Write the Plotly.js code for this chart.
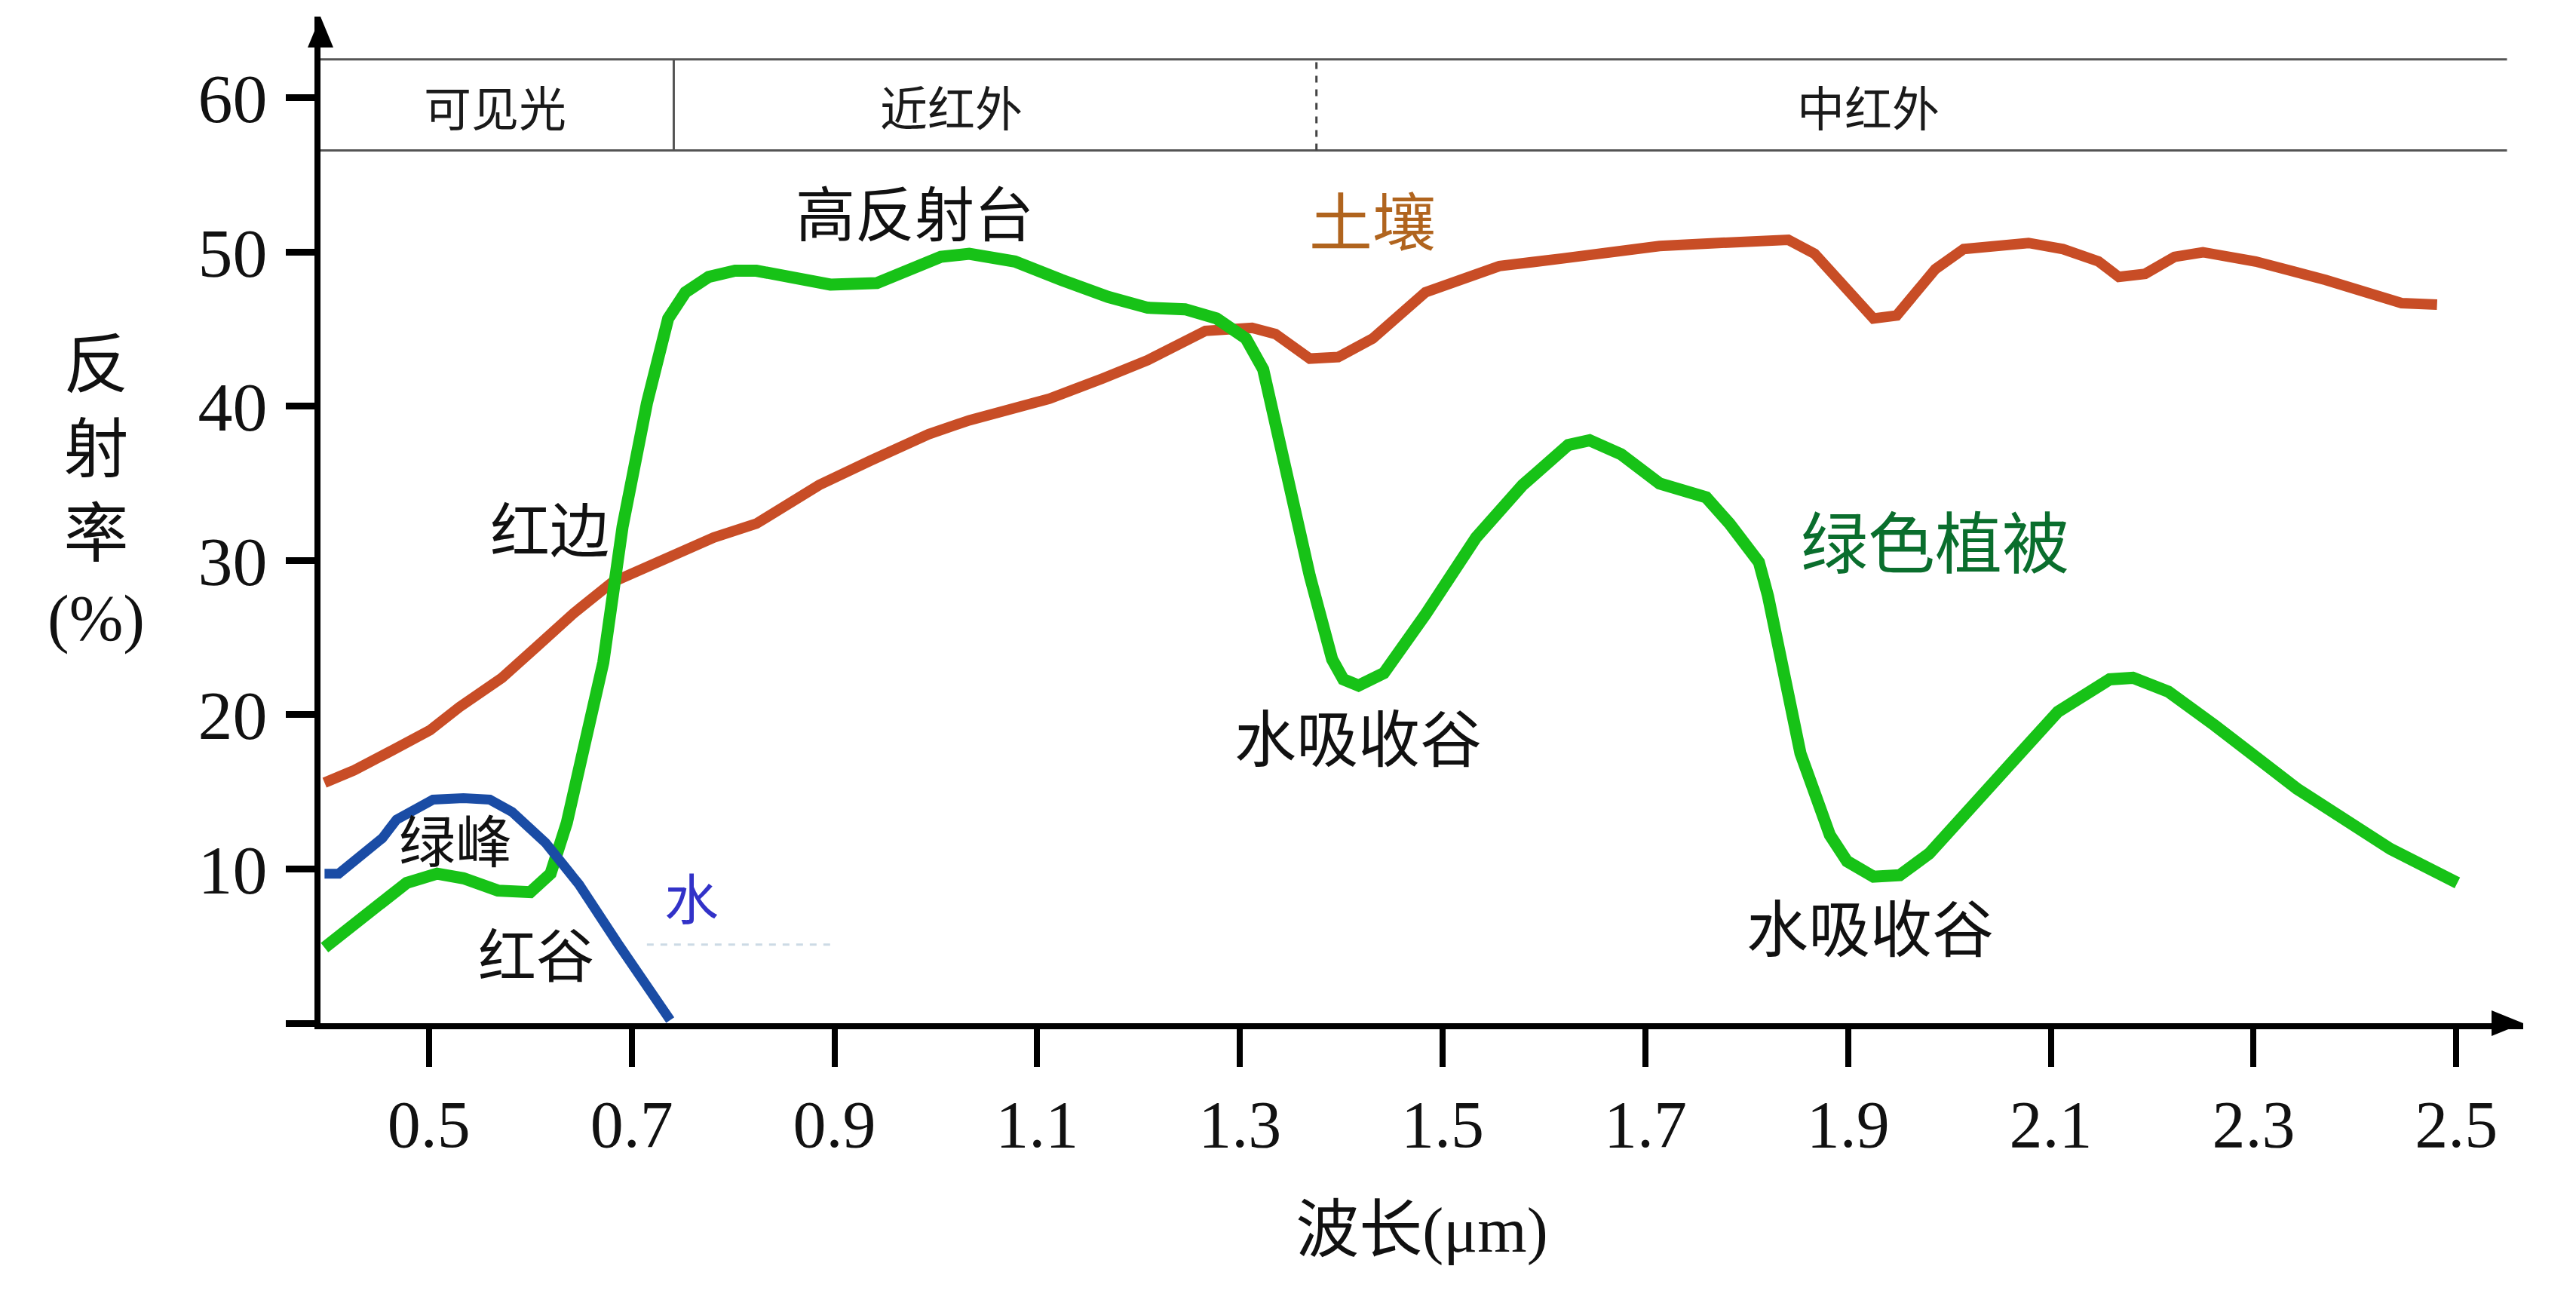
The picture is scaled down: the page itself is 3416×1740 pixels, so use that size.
<!DOCTYPE html>
<html>
<head>
<meta charset="utf-8">
<script src="https://cdn.plot.ly/plotly-3.0.1.min.js"></script>
<style>
  html, body { margin: 0; padding: 0; background: #ffffff; }
  #chart { width: 3416px; height: 1740px; }
</style>
</head>
<body>
<div id="chart"></div>
<script>
// Reflectance spectra (wavelength in µm, reflectance in %)
const vegWavelength = [0.397, 0.420, 0.449, 0.478, 0.508, 0.534, 0.568, 0.600, 0.620, 0.636, 0.653, 0.672, 0.691, 0.715, 0.736, 0.753, 0.776, 0.802, 0.823, 0.896, 0.942, 1.005, 1.033, 1.078, 1.124, 1.170, 1.209, 1.246, 1.277, 1.306, 1.323, 1.346, 1.369, 1.391, 1.402, 1.417, 1.442, 1.483, 1.533, 1.579, 1.624, 1.645, 1.676, 1.714, 1.749, 1.760, 1.783, 1.812, 1.821, 1.830, 1.847, 1.853, 1.882, 1.899, 1.925, 1.951, 1.980, 2.020, 2.060, 2.107, 2.158, 2.181, 2.216, 2.262, 2.297, 2.343, 2.435, 2.501];
const vegReflectance = [4.9, 6.2, 7.6, 9.1, 9.7, 9.4, 8.6, 8.5, 9.7, 13.0, 17.6, 23.4, 32.2, 40.2, 45.7, 47.4, 48.4, 48.8, 48.8, 47.9, 48.0, 49.7, 49.9, 49.4, 48.2, 47.1, 46.4, 46.3, 45.7, 44.4, 42.4, 35.8, 29.0, 23.6, 22.3, 21.9, 22.7, 26.5, 31.5, 34.9, 37.5, 37.8, 36.9, 35.0, 34.4, 34.1, 32.4, 29.9, 27.7, 24.9, 19.6, 17.5, 12.2, 10.5, 9.5, 9.6, 11.0, 13.8, 16.8, 20.2, 22.3, 22.4, 21.5, 19.3, 17.5, 15.2, 11.3, 9.1];

const soilWavelength = [0.397, 0.426, 0.464, 0.501, 0.530, 0.572, 0.606, 0.643, 0.681, 0.743, 0.781, 0.823, 0.885, 0.936, 0.993, 1.033, 1.112, 1.164, 1.209, 1.266, 1.312, 1.335, 1.369, 1.397, 1.431, 1.483, 1.556, 1.619, 1.714, 1.772, 1.841, 1.867, 1.893, 1.925, 1.948, 1.986, 2.014, 2.078, 2.112, 2.147, 2.167, 2.193, 2.222, 2.250, 2.302, 2.371, 2.446, 2.481];
const soilReflectance = [15.6, 16.4, 17.7, 19.0, 20.5, 22.4, 24.4, 26.6, 28.6, 30.5, 31.5, 32.4, 34.9, 36.5, 38.2, 39.1, 40.5, 41.8, 43.0, 44.9, 45.1, 44.7, 43.1, 43.2, 44.4, 47.4, 49.1, 49.6, 50.4, 50.6, 50.8, 49.9, 48.0, 45.7, 45.9, 48.9, 50.2, 50.6, 50.2, 49.4, 48.4, 48.6, 49.7, 50.0, 49.4, 48.2, 46.7, 46.6];

const waterWavelength = [0.397, 0.411, 0.454, 0.468, 0.504, 0.534, 0.560, 0.582, 0.615, 0.648, 0.686, 0.715, 0.738];
const waterReflectance = [9.7, 9.7, 12.0, 13.2, 14.5, 14.6, 14.5, 13.7, 11.7, 9.0, 5.2, 2.3, 0.2];

// Axis ticks
const xTickVals = [0.5, 0.7, 0.9, 1.1, 1.3, 1.5, 1.7, 1.9, 2.1, 2.3, 2.5];
const xTickText = ['0.5', '0.7', '0.9', '1.1', '1.3', '1.5', '1.7', '1.9', '2.1', '2.3', '2.5'];
const yTickVals = [0, 10, 20, 30, 40, 50, 60];
const yTickText = ['', '10', '20', '30', '40', '50', '60'];

// Spectral regions shown in the header band
const bandNames = ['可见光', '近红外', '中红外'];
const bandEdges = [0.393, 0.7415, 1.3755, 2.55];
const bandLabelAt = [0.565, 1.015, 1.92];
const bandRange = [56.6, 62.5];

const SERIF = "'Liberation Serif', 'Noto Sans CJK SC', serif";
const CJK = "'Noto Sans CJK SC', 'Liberation Serif', sans-serif";

const traces = [
  { x: soilWavelength, y: soilReflectance, name: '土壤', mode: 'lines',
    line: { color: '#c84d26', width: 14 }, hoverinfo: 'skip' },
  { x: vegWavelength, y: vegReflectance, name: '绿色植被', mode: 'lines',
    line: { color: '#17c217', width: 16 }, hoverinfo: 'skip' },
  { x: waterWavelength, y: waterReflectance, name: '水', mode: 'lines',
    line: { color: '#1a4ca5', width: 13 }, hoverinfo: 'skip' }
];

// Header band: two horizontal rules plus one solid and one dashed divider
const shapes = [
  { type: 'line', xref: 'x', yref: 'y', x0: bandEdges[0], x1: bandEdges[3], y0: bandRange[1], y1: bandRange[1],
    line: { color: '#555555', width: 3 } },
  { type: 'line', xref: 'x', yref: 'y', x0: bandEdges[0], x1: bandEdges[3], y0: bandRange[0], y1: bandRange[0],
    line: { color: '#555555', width: 3 } },
  { type: 'line', xref: 'x', yref: 'y', x0: bandEdges[1], x1: bandEdges[1], y0: bandRange[0], y1: bandRange[1],
    line: { color: '#555555', width: 3 } },
  { type: 'line', xref: 'x', yref: 'y', x0: bandEdges[2], x1: bandEdges[2], y0: bandRange[0], y1: bandRange[1],
    line: { color: '#444444', width: 3, dash: 'dash' } },
  // faint trail next to the water label
  { type: 'line', xref: 'x', yref: 'y', x0: 0.715, x1: 0.897, y0: 5.1, y1: 5.1,
    line: { color: 'rgba(110,150,180,0.35)', width: 3, dash: 'dash' } },
  // arrowheads at the ends of both axes
  { type: 'path', xref: 'paper', yref: 'paper', xsizemode: 'pixel', ysizemode: 'pixel',
    xanchor: 0, yanchor: 1, path: 'M0,0 L-17,-41 L17,-41 Z',
    fillcolor: '#000000', line: { width: 0 } },
  { type: 'path', xref: 'paper', yref: 'paper', xsizemode: 'pixel', ysizemode: 'pixel',
    xanchor: 1, yanchor: 0, path: 'M0,0 L-42,17 L-42,-17 Z',
    fillcolor: '#000000', line: { width: 0 } }
];

const annotations = [];
bandNames.forEach((t, i) => {
  annotations.push({ text: t, x: bandLabelAt[i], y: (bandRange[0] + bandRange[1]) / 2,
    xref: 'x', yref: 'y', showarrow: false, font: { family: CJK, size: 63, color: '#1a1a1a' } });
});

function note(text, x, y, size, color) {
  annotations.push({ text: text, x: x, y: y, xref: 'x', yref: 'y', showarrow: false,
    xanchor: 'center', yanchor: 'middle', font: { family: CJK, size: size, color: color } });
}
note('高反射台', 0.979, 52.7, 79, '#111111');
note('土壤', 1.4305, 52.2, 84, '#b0641e');
note('绿色植被', 1.986, 31.4, 89, '#0a6e2d');
note('红边', 0.619, 32.2, 79, '#111111');
note('水吸收谷', 1.417, 18.7, 82, '#111111');
note('水吸收谷', 1.922, 6.4, 82, '#111111');
note('绿峰', 0.526, 12.0, 75, '#111111');
note('蓝谷', 0.289, 3.5, 75, '#111111');
note('红谷', 0.6055, 4.6, 77, '#111111');
note('水', 0.759, 8.3, 72, '#3232c8');

// Vertical y-axis title, one character per line
annotations.push({ text: '反<br>射<br>率<br>(%)', xref: 'paper', yref: 'paper',
  x: -0.102, y: 0.528, xanchor: 'center', yanchor: 'middle', showarrow: false,
  font: { family: SERIF, size: 86, color: '#111111' } });

const layout = {
  width: 3416, height: 1740,
  margin: { l: 425, r: 70, t: 22, b: 383 },
  paper_bgcolor: '#ffffff', plot_bgcolor: '#ffffff',
  showlegend: false,
  font: { family: SERIF, color: '#111111' },
  xaxis: {
    range: [0.393, 2.566], showgrid: false, zeroline: false,
    showline: true, linecolor: '#000000', linewidth: 8,
    ticks: 'outside', ticklen: 50, tickwidth: 8, tickcolor: '#000000',
    tickmode: 'array', tickvals: xTickVals, ticktext: xTickText,
    tickfont: { family: SERIF, size: 88, color: '#111111' },
    title: { text: '波长(μm)', font: { family: SERIF, size: 84, color: '#111111' }, standoff: 66 }
  },
  yaxis: {
    range: [0, 65.28], showgrid: false, zeroline: false,
    showline: true, linecolor: '#000000', linewidth: 8,
    ticks: 'outside', ticklen: 38, tickwidth: 9, tickcolor: '#000000',
    tickmode: 'array', tickvals: yTickVals, ticktext: yTickText,
    ticklabelstandoff: 6,
    tickfont: { family: SERIF, size: 92, color: '#111111' }
  },
  shapes: shapes,
  annotations: annotations
};

Plotly.newPlot('chart', traces, layout, { displayModeBar: false, staticPlot: true });
</script>
</body>
</html>
